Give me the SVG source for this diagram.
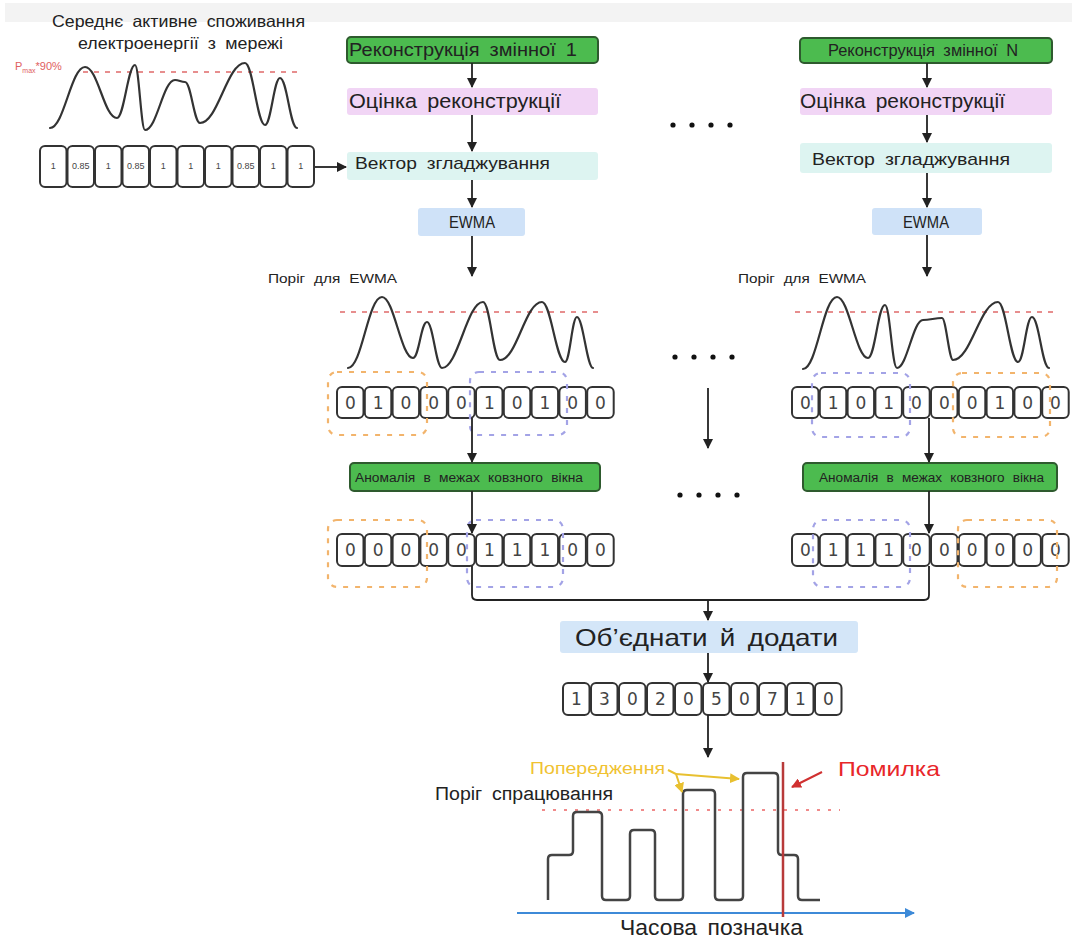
<svg xmlns="http://www.w3.org/2000/svg" width="1072" height="944" viewBox="0 0 1072 944">
<defs>
<style>
text{font-family:"Liberation Sans",Arial,sans-serif;fill:#222}
.fit{word-spacing:4px}
.green{fill:#4cbb4f;stroke:#2e5a2e;stroke-width:2}
.purple{fill:#f1d5f5}
.cyan{fill:#ddf4f1}
.blue{fill:#cfe2f8}
.cell{fill:#fff;stroke:#333;stroke-width:2}
.dig{font-family:"DejaVu Sans",sans-serif;font-size:17px;fill:#444;text-anchor:middle}
.sm{font-family:"Liberation Sans",sans-serif;font-size:9px;fill:#444;text-anchor:middle}
.curve{fill:none;stroke:#333;stroke-width:2.2;stroke-linecap:round}
.thr{stroke:#e06a6a;stroke-width:1.6;stroke-dasharray:5 6;fill:none}
.ob{fill:none;stroke:#f2b46c;stroke-width:2.2;stroke-dasharray:5 7}
.pb{fill:none;stroke:#a3a3e6;stroke-width:2.2;stroke-dasharray:5 7}
.con{fill:none;stroke:#222;stroke-width:1.8}
</style>
<marker id="ah" viewBox="0 0 10 10" refX="9" refY="5" markerWidth="10" markerHeight="10" markerUnits="userSpaceOnUse" orient="auto"><path d="M0,0 L10,5 L0,10 z" fill="#222"/></marker>
<marker id="ahy" viewBox="0 0 10 10" refX="9" refY="5" markerWidth="10" markerHeight="10" markerUnits="userSpaceOnUse" orient="auto"><path d="M0,0 L10,5 L0,10 z" fill="#e8c030"/></marker>
<marker id="ahr" viewBox="0 0 10 10" refX="9" refY="5" markerWidth="10" markerHeight="10" markerUnits="userSpaceOnUse" orient="auto"><path d="M0,0 L10,5 L0,10 z" fill="#d03030"/></marker>
<marker id="ahb" viewBox="0 0 10 10" refX="9" refY="5" markerWidth="12" markerHeight="10" markerUnits="userSpaceOnUse" orient="auto"><path d="M0,0 L10,5 L0,10 z" fill="#3d8ad8"/></marker>
</defs>
<rect x="0" y="0" width="1072" height="944" fill="#fff"/>
<rect x="5" y="3" width="1067" height="19" fill="#f3f3f3"/>

<!-- left input -->
<g id="input">
<text class="fit" x="52" y="27" font-size="16.5" textLength="253" lengthAdjust="spacingAndGlyphs">Середнє активне споживання</text>
<text class="fit" x="78" y="49" font-size="16.5" textLength="205" lengthAdjust="spacingAndGlyphs">електроенергії з мережі</text>
<text x="15" y="70" font-size="11" style="fill:#e06060">P<tspan font-size="7" dy="3">max</tspan><tspan dy="-3">*90%</tspan></text>
<line class="thr" x1="83" y1="72" x2="303" y2="72"/>
<path class="curve" d="M50,128 C64,128 71,67 85,67 C98,67 104,118 117,118 C124,118 128,65 135,65 C139,65 141,130 145,130 C157,130 163,80 175,80 C179,80 181,82 185,82 C191,82 194,123 200,123 C218,123 227,63 245,63 C253,63 257,125 265,125 C271,125 274,78 280,78 C287,78 290,128 297,128"/>
<g>
<rect class="cell" x="40" y="146" width="26.5" height="41" rx="5"/>
<rect class="cell" x="67.5" y="146" width="26.5" height="41" rx="5"/>
<rect class="cell" x="95" y="146" width="26.5" height="41" rx="5"/>
<rect class="cell" x="122.5" y="146" width="26.5" height="41" rx="5"/>
<rect class="cell" x="150" y="146" width="26.5" height="41" rx="5"/>
<rect class="cell" x="177.5" y="146" width="26.5" height="41" rx="5"/>
<rect class="cell" x="205" y="146" width="26.5" height="41" rx="5"/>
<rect class="cell" x="232.5" y="146" width="26.5" height="41" rx="5"/>
<rect class="cell" x="260" y="146" width="26.5" height="41" rx="5"/>
<rect class="cell" x="287.5" y="146" width="26.5" height="41" rx="5"/>
<text class="sm" x="53.3" y="169">1</text>
<text class="sm" x="80.8" y="169">0.85</text>
<text class="sm" x="108.3" y="169">1</text>
<text class="sm" x="135.8" y="169">0.85</text>
<text class="sm" x="163.3" y="169">1</text>
<text class="sm" x="190.8" y="169">1</text>
<text class="sm" x="218.3" y="169">1</text>
<text class="sm" x="245.8" y="169">0.85</text>
<text class="sm" x="273.3" y="169">1</text>
<text class="sm" x="300.8" y="169">1</text>
</g>
</g>

<!-- lane 1 -->
<g id="rec1"><rect class="green" x="347" y="37" width="251" height="26" rx="4"/><text class="fit" x="349" y="56" font-size="18" textLength="228" lengthAdjust="spacingAndGlyphs">Реконструкція змінної 1</text></g>
<g id="eval1"><rect class="purple" x="347" y="88" width="251" height="27" rx="3"/><text class="fit" x="349" y="108" font-size="20" textLength="212" lengthAdjust="spacingAndGlyphs">Оцінка реконструкції</text></g>
<g id="smooth1"><rect class="cyan" x="347" y="152" width="251" height="28" rx="3"/><text class="fit" x="355" y="169" font-size="17" textLength="195" lengthAdjust="spacingAndGlyphs">Вектор згладжування</text></g>
<g id="ewma1"><rect class="blue" x="418" y="208" width="107" height="28" rx="3"/><text x="472" y="228" font-size="16" text-anchor="middle" textLength="46" lengthAdjust="spacingAndGlyphs">EWMA</text></g>
<g id="thr1">
<text class="fit" x="268" y="283" font-size="13.5" textLength="129" lengthAdjust="spacingAndGlyphs">Поріг для EWMA</text>
<line class="thr" x1="340" y1="312" x2="600" y2="312"/>
<path class="curve" d="M348,368 C362,368 368,297 382,297 C394,297 401,358 413,358 C419,358 421,322 427,322 C433,322 436,368 442,368 C458,368 467,302 483,302 C490,302 493,360 500,360 C517,360 525,302 542,302 C551,302 556,362 565,362 C570,362 572,317 577,317 C583,317 587,368 593,368"/>
</g>
<g id="bin1">
<rect class="cell" x="337" y="387" width="26.5" height="31" rx="5"/>
<rect class="cell" x="364.8" y="387" width="26.5" height="31" rx="5"/>
<rect class="cell" x="392.6" y="387" width="26.5" height="31" rx="5"/>
<rect class="cell" x="420.4" y="387" width="26.5" height="31" rx="5"/>
<rect class="cell" x="448.2" y="387" width="26.5" height="31" rx="5"/>
<rect class="cell" x="476" y="387" width="26.5" height="31" rx="5"/>
<rect class="cell" x="503.8" y="387" width="26.5" height="31" rx="5"/>
<rect class="cell" x="531.6" y="387" width="26.5" height="31" rx="5"/>
<rect class="cell" x="559.4" y="387" width="26.5" height="31" rx="5"/>
<rect class="cell" x="587.2" y="387" width="26.5" height="31" rx="5"/>
<text class="dig" x="350.3" y="409">0</text>
<text class="dig" x="378.1" y="409">1</text>
<text class="dig" x="405.9" y="409">0</text>
<text class="dig" x="433.7" y="409">0</text>
<text class="dig" x="461.5" y="409">0</text>
<text class="dig" x="489.3" y="409">1</text>
<text class="dig" x="517.1" y="409">0</text>
<text class="dig" x="544.9" y="409">1</text>
<text class="dig" x="572.7" y="409">0</text>
<text class="dig" x="600.5" y="409">0</text>
<rect class="ob" x="328" y="372" width="99" height="63" rx="9"/>
<rect class="pb" x="470" y="372" width="97" height="63" rx="9"/>
</g>
<g id="anom1"><rect class="green" x="350" y="463" width="250" height="28" rx="4"/><text class="fit" x="355" y="482" font-size="12.5" textLength="228" lengthAdjust="spacingAndGlyphs">Аномалія в межах ковзного вікна</text></g>
<g id="win1">
<rect class="cell" x="337" y="534" width="26.5" height="32" rx="5"/>
<rect class="cell" x="364.8" y="534" width="26.5" height="32" rx="5"/>
<rect class="cell" x="392.6" y="534" width="26.5" height="32" rx="5"/>
<rect class="cell" x="420.4" y="534" width="26.5" height="32" rx="5"/>
<rect class="cell" x="448.2" y="534" width="26.5" height="32" rx="5"/>
<rect class="cell" x="476" y="534" width="26.5" height="32" rx="5"/>
<rect class="cell" x="503.8" y="534" width="26.5" height="32" rx="5"/>
<rect class="cell" x="531.6" y="534" width="26.5" height="32" rx="5"/>
<rect class="cell" x="559.4" y="534" width="26.5" height="32" rx="5"/>
<rect class="cell" x="587.2" y="534" width="26.5" height="32" rx="5"/>
<text class="dig" x="350.3" y="556">0</text>
<text class="dig" x="378.1" y="556">0</text>
<text class="dig" x="405.9" y="556">0</text>
<text class="dig" x="433.7" y="556">0</text>
<text class="dig" x="461.5" y="556">0</text>
<text class="dig" x="489.3" y="556">1</text>
<text class="dig" x="517.1" y="556">1</text>
<text class="dig" x="544.9" y="556">1</text>
<text class="dig" x="572.7" y="556">0</text>
<text class="dig" x="600.5" y="556">0</text>
<rect class="ob" x="328" y="520" width="99" height="67" rx="9"/>
<rect class="pb" x="467" y="520" width="96" height="67" rx="9"/>
</g>

<!-- lane N -->
<g id="recN"><rect class="green" x="800" y="38" width="252" height="25" rx="4"/><text class="fit" x="828" y="56" font-size="16.5" textLength="190" lengthAdjust="spacingAndGlyphs">Реконструкція змінної N</text></g>
<g id="evalN"><rect class="purple" x="800" y="88" width="252" height="27" rx="3"/><text class="fit" x="800" y="108" font-size="20" textLength="205" lengthAdjust="spacingAndGlyphs">Оцінка реконструкції</text></g>
<g id="smoothN"><rect class="cyan" x="800" y="143" width="252" height="30" rx="3"/><text class="fit" x="812" y="165" font-size="17" textLength="198" lengthAdjust="spacingAndGlyphs">Вектор згладжування</text></g>
<g id="ewmaN"><rect class="blue" x="872" y="208" width="110" height="27" rx="3"/><text x="926" y="228" font-size="16" text-anchor="middle" textLength="46" lengthAdjust="spacingAndGlyphs">EWMA</text></g>
<g id="thrN">
<text class="fit" x="738" y="283" font-size="13.5" textLength="128" lengthAdjust="spacingAndGlyphs">Поріг для EWMA</text>
<line class="thr" x1="795" y1="312" x2="1057" y2="312"/>
<path class="curve" d="M803,369 C817,369 823,297 837,297 C849,297 856,358 868,358 C875,358 878,305 885,305 C890,305 892,368 897,368 C907,368 913,320 923,320 C930,320 935,318 942,318 C946,318 949,360 953,360 C971,360 980,302 998,302 C1006,302 1010,362 1018,362 C1024,362 1026,317 1032,317 C1039,317 1042,368 1049,368"/>
</g>
<g id="binN">
<rect class="cell" x="792" y="387" width="26.5" height="31" rx="5"/>
<rect class="cell" x="819.8" y="387" width="26.5" height="31" rx="5"/>
<rect class="cell" x="847.6" y="387" width="26.5" height="31" rx="5"/>
<rect class="cell" x="875.4" y="387" width="26.5" height="31" rx="5"/>
<rect class="cell" x="903.2" y="387" width="26.5" height="31" rx="5"/>
<rect class="cell" x="931" y="387" width="26.5" height="31" rx="5"/>
<rect class="cell" x="958.8" y="387" width="26.5" height="31" rx="5"/>
<rect class="cell" x="986.6" y="387" width="26.5" height="31" rx="5"/>
<rect class="cell" x="1014.4" y="387" width="26.5" height="31" rx="5"/>
<rect class="cell" x="1042.2" y="387" width="26.5" height="31" rx="5"/>
<text class="dig" x="805.3" y="409">0</text>
<text class="dig" x="833.1" y="409">1</text>
<text class="dig" x="860.9" y="409">0</text>
<text class="dig" x="888.7" y="409">1</text>
<text class="dig" x="916.5" y="409">0</text>
<text class="dig" x="944.3" y="409">0</text>
<text class="dig" x="972.1" y="409">0</text>
<text class="dig" x="999.9" y="409">1</text>
<text class="dig" x="1027.7" y="409">0</text>
<text class="dig" x="1055.5" y="409">0</text>
<rect class="pb" x="812" y="373" width="98" height="64" rx="9"/>
<rect class="ob" x="953" y="373" width="97" height="64" rx="9"/>
</g>
<g id="anomN"><rect class="green" x="803" y="463" width="254" height="28" rx="4"/><text class="fit" x="819" y="482" font-size="12.5" textLength="225" lengthAdjust="spacingAndGlyphs">Аномалія в межах ковзного вікна</text></g>
<g id="winN">
<rect class="cell" x="792" y="534" width="26.5" height="32" rx="5"/>
<rect class="cell" x="819.8" y="534" width="26.5" height="32" rx="5"/>
<rect class="cell" x="847.6" y="534" width="26.5" height="32" rx="5"/>
<rect class="cell" x="875.4" y="534" width="26.5" height="32" rx="5"/>
<rect class="cell" x="903.2" y="534" width="26.5" height="32" rx="5"/>
<rect class="cell" x="931" y="534" width="26.5" height="32" rx="5"/>
<rect class="cell" x="958.8" y="534" width="26.5" height="32" rx="5"/>
<rect class="cell" x="986.6" y="534" width="26.5" height="32" rx="5"/>
<rect class="cell" x="1014.4" y="534" width="26.5" height="32" rx="5"/>
<rect class="cell" x="1042.2" y="534" width="26.5" height="32" rx="5"/>
<text class="dig" x="805.3" y="556">0</text>
<text class="dig" x="833.1" y="556">1</text>
<text class="dig" x="860.9" y="556">1</text>
<text class="dig" x="888.7" y="556">1</text>
<text class="dig" x="916.5" y="556">0</text>
<text class="dig" x="944.3" y="556">0</text>
<text class="dig" x="972.1" y="556">0</text>
<text class="dig" x="999.9" y="556">0</text>
<text class="dig" x="1027.7" y="556">0</text>
<text class="dig" x="1055.5" y="556">0</text>
<rect class="pb" x="813" y="520" width="97" height="67" rx="9"/>
<rect class="ob" x="958" y="520" width="99" height="67" rx="9"/>
</g>

<!-- ellipsis dots -->
<g id="dots" fill="#111">
<circle cx="673" cy="125" r="2.6"/><circle cx="692" cy="125" r="2.6"/><circle cx="711" cy="125" r="2.6"/><circle cx="730" cy="125" r="2.6"/>
<circle cx="675" cy="357" r="2.6"/><circle cx="694" cy="357" r="2.6"/><circle cx="713" cy="357" r="2.6"/><circle cx="732" cy="357" r="2.6"/>
<circle cx="680" cy="495" r="2.6"/><circle cx="699" cy="495" r="2.6"/><circle cx="718" cy="495" r="2.6"/><circle cx="737" cy="495" r="2.6"/>
</g>

<!-- merge -->
<g id="merge"><rect x="560" y="621" width="298" height="32" rx="3" fill="#d4e6f8"/><text class="fit" x="575" y="646" font-size="24" textLength="263" lengthAdjust="spacingAndGlyphs">Об’єднати й додати</text></g>
<g id="sum">
<rect class="cell" x="563" y="683" width="26.5" height="32" rx="5"/>
<rect class="cell" x="591" y="683" width="26.5" height="32" rx="5"/>
<rect class="cell" x="619" y="683" width="26.5" height="32" rx="5"/>
<rect class="cell" x="647" y="683" width="26.5" height="32" rx="5"/>
<rect class="cell" x="675" y="683" width="26.5" height="32" rx="5"/>
<rect class="cell" x="703" y="683" width="26.5" height="32" rx="5"/>
<rect class="cell" x="731" y="683" width="26.5" height="32" rx="5"/>
<rect class="cell" x="759" y="683" width="26.5" height="32" rx="5"/>
<rect class="cell" x="787" y="683" width="26.5" height="32" rx="5"/>
<rect class="cell" x="815" y="683" width="26.5" height="32" rx="5"/>
<text class="dig" x="576.3" y="705">1</text>
<text class="dig" x="604.3" y="705">3</text>
<text class="dig" x="632.3" y="705">0</text>
<text class="dig" x="660.3" y="705">2</text>
<text class="dig" x="688.3" y="705">0</text>
<text class="dig" x="716.3" y="705">5</text>
<text class="dig" x="744.3" y="705">0</text>
<text class="dig" x="772.3" y="705">7</text>
<text class="dig" x="800.3" y="705">1</text>
<text class="dig" x="828.3" y="705">0</text>
</g>

<!-- output chart -->
<g id="output">
<text x="530" y="774" font-size="17" textLength="135" lengthAdjust="spacingAndGlyphs" style="fill:#f0c232">Попередження</text>
<text class="fit" x="435" y="800" font-size="18" textLength="178" lengthAdjust="spacingAndGlyphs">Поріг спрацювання</text>
<text x="838" y="776" font-size="21" textLength="102" lengthAdjust="spacingAndGlyphs" style="fill:#e8262a">Помилка</text>
<line x1="542" y1="810" x2="840" y2="810" stroke="#f08a8a" stroke-width="1.8" stroke-dasharray="3 8"/>
<path fill="none" stroke="#444" stroke-width="2.5" d="M548,900 V859 Q548,855 552,855 H569 Q573,855 573,851 V816 Q573,812 577,812 H598 Q602,812 602,816 V896 Q602,900 606,900 H626 Q630,900 630,896 V834 Q630,830 634,830 H651 Q655,830 655,834 V896 Q655,900 659,900 H679 Q683,900 683,896 V794 Q683,790 687,790 H711 Q715,790 715,794 V896 Q715,900 719,900 H739 Q743,900 743,896 V777 Q743,773 747,773 H774 Q778,773 778,777 V851 Q778,855 782,855 H794 Q798,855 798,859 V896 Q798,900 802,900 H820"/>
<line x1="517" y1="913" x2="914" y2="913" stroke="#3d8ad8" stroke-width="2" marker-end="url(#ahb)"/>
<line x1="783" y1="762" x2="783" y2="917" stroke="#b83a3a" stroke-width="2.5"/>
<path d="M668,770 L676,774 L682,792" fill="none" stroke="#e8c030" stroke-width="2" marker-end="url(#ahy)"/>
<path d="M676,774 L739,779" fill="none" stroke="#e8c030" stroke-width="2" marker-end="url(#ahy)"/>
<path d="M822,772 L792,787" fill="none" stroke="#d03030" stroke-width="2" marker-end="url(#ahr)"/>
<text class="fit" x="620" y="935" font-size="22" textLength="183" lengthAdjust="spacingAndGlyphs">Часова позначка</text>
</g>

<!-- connectors -->
<g id="connectors" class="con">
<line class="con" x1="315" y1="167" x2="346" y2="167" marker-end="url(#ah)"/>
<line class="con" x1="472" y1="63" x2="472" y2="87" marker-end="url(#ah)"/>
<line class="con" x1="472" y1="115" x2="472" y2="151" marker-end="url(#ah)"/>
<line class="con" x1="472" y1="180" x2="472" y2="207" marker-end="url(#ah)"/>
<line class="con" x1="472" y1="236" x2="472" y2="276" marker-end="url(#ah)"/>
<line class="con" x1="472" y1="418" x2="472" y2="462" marker-end="url(#ah)"/>
<line class="con" x1="472" y1="491" x2="472" y2="533" marker-end="url(#ah)"/>
<line class="con" x1="927" y1="63" x2="927" y2="87" marker-end="url(#ah)"/>
<line class="con" x1="927" y1="115" x2="927" y2="142" marker-end="url(#ah)"/>
<line class="con" x1="927" y1="173" x2="927" y2="207" marker-end="url(#ah)"/>
<line class="con" x1="927" y1="235" x2="927" y2="276" marker-end="url(#ah)"/>
<line class="con" x1="929" y1="418" x2="929" y2="462" marker-end="url(#ah)"/>
<line class="con" x1="929" y1="491" x2="929" y2="533" marker-end="url(#ah)"/>
<line class="con" x1="708" y1="388" x2="708" y2="448" marker-end="url(#ah)"/>
<path class="con" d="M472,566 V595 Q472,600 477,600 H924 Q929,600 929,595 V566"/>
<line class="con" x1="708" y1="600" x2="708" y2="620" marker-end="url(#ah)"/>
<line class="con" x1="708" y1="653" x2="708" y2="682" marker-end="url(#ah)"/>
<line class="con" x1="708" y1="715" x2="708" y2="757" marker-end="url(#ah)"/>
</g>
</svg>
